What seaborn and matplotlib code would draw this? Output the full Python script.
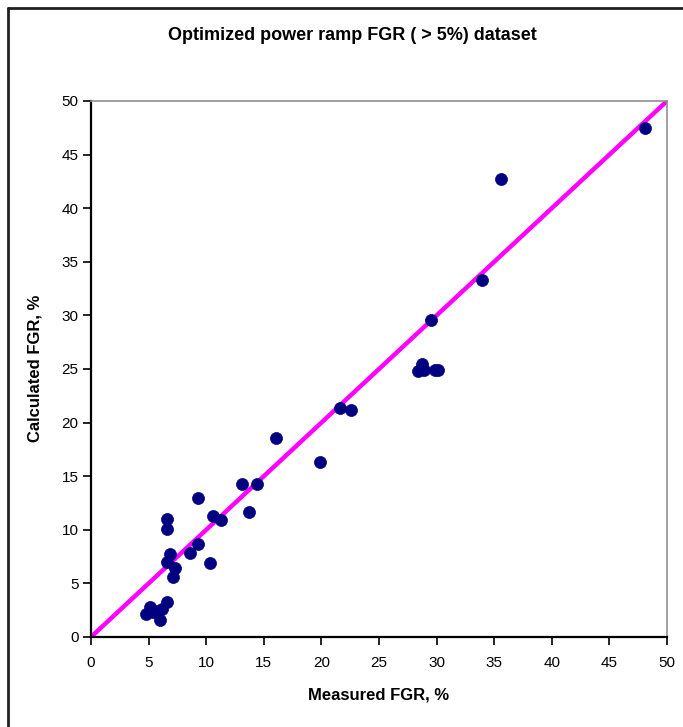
import matplotlib
matplotlib.use("Agg")
import matplotlib.pyplot as plt
import seaborn as sns
import pandas as pd
from matplotlib.lines import Line2D

sns.set_theme(style="white")
plt.rcParams['font.family'] = ['Liberation Sans', 'DejaVu Sans']
plt.rcParams['text.color'] = 'black'
plt.rcParams['axes.labelcolor'] = 'black'
plt.rcParams['xtick.color'] = 'black'
plt.rcParams['ytick.color'] = 'black'

measured = [48.1, 35.6, 33.9, 29.5, 28.7, 28.9, 29.9, 28.4, 30.1,
            21.6, 22.6, 16.1, 19.9,
            13.1, 14.4, 9.3, 13.7, 10.6, 11.3, 6.6, 6.6, 9.3, 8.6, 6.9, 6.6, 7.3, 10.3, 7.1,
            6.6, 5.1, 4.8, 6.0, 5.7, 6.2, 5.4]
calculated = [47.5, 42.7, 33.3, 29.6, 25.5, 24.9, 24.9, 24.8, 24.9,
              21.4, 21.2, 18.6, 16.3,
              14.3, 14.3, 13.0, 11.7, 11.3, 10.9, 11.0, 10.1, 8.7, 7.8, 7.7, 7.0, 6.4, 6.9, 5.6,
              3.3, 2.8, 2.1, 1.6, 2.4, 2.6, 2.3]
line_x = [0, 50]
line_y = [0, 50]

title = "Optimized power ramp FGR ( > 5%) dataset"
xlabel = "Measured FGR, %"
ylabel = "Calculated FGR, %"
ticks = [0, 5, 10, 15, 20, 25, 30, 35, 40, 45, 50]

df = pd.DataFrame({"Measured": measured, "Calculated": calculated})
ldf = pd.DataFrame({"x": line_x, "y": line_y})

W, H = 683, 727
fig = plt.figure(figsize=(W / 100, H / 100), dpi=100)
ax = fig.add_axes([91 / W, 1 - 637 / H, (667 - 91) / W, (637 - 101) / H])

sns.lineplot(data=ldf, x="x", y="y", ax=ax, color="#FF00FF", linewidth=3.2, zorder=2)
sns.scatterplot(data=df, x="Measured", y="Calculated", ax=ax, color="#000080",
                s=75, marker="o", edgecolor="#000080", linewidth=0.5, zorder=3)

ax.set_xlim(0, 50)
ax.set_ylim(0, 50)
ax.set_xticks(ticks)
ax.set_yticks(ticks)
ax.set_xticklabels([str(t) for t in ticks], fontsize=11)
ax.set_yticklabels([str(t) for t in ticks], fontsize=11)
ax.tick_params(axis="both", direction="out", length=6, width=1.2, color="black",
               bottom=True, left=True)
ax.tick_params(axis="x", pad=8)
ax.tick_params(axis="y", pad=3)
for side in ["left", "bottom"]:
    ax.spines[side].set_color("black")
    ax.spines[side].set_linewidth(1.6)
for side in ["top", "right"]:
    ax.spines[side].set_color("#909090")
    ax.spines[side].set_linewidth(1.2)

ax.set_xlabel(xlabel, fontsize=12, fontweight="bold", va="center", ha="center")
ax.set_ylabel(ylabel, fontsize=12, fontweight="bold", va="center", ha="center")
ax.xaxis.set_label_coords((379 - 91) / 576, (637 - 695) / 536)
ax.yaxis.set_label_coords((35 - 91) / 576, (637 - 368) / 536)
fig.text(352 / W, 1 - 36 / H, title, ha="center", va="center",
         fontsize=13, fontweight="bold", color="black")

# outer chart border (left and top visible)
fig.add_artist(Line2D([8 / W, 8 / W], [0, 1 - 8 / H], transform=fig.transFigure,
                      color="#202020", linewidth=2))
fig.add_artist(Line2D([8 / W, 1], [1 - 8 / H, 1 - 8 / H], transform=fig.transFigure,
                      color="#202020", linewidth=2))

fig.savefig("out.png", dpi=100)
